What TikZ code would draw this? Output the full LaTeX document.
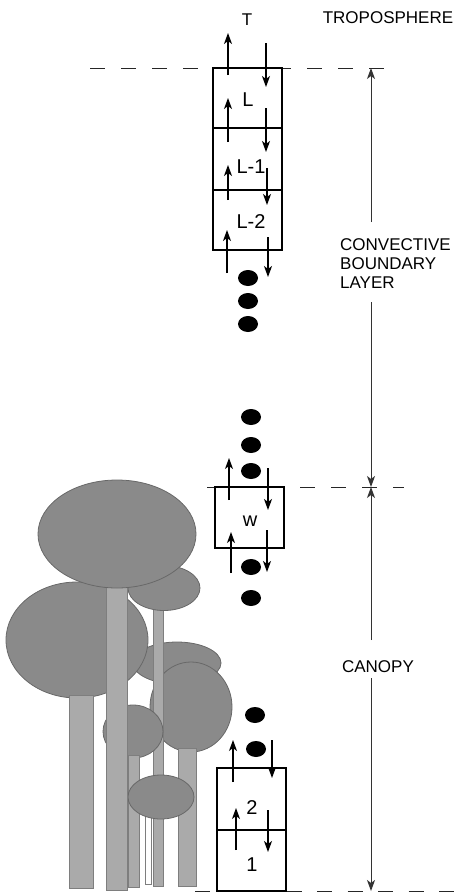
\documentclass[tikz,border=0pt]{standalone}
\usepackage{fontspec}
\setmainfont{Liberation Sans}
\usetikzlibrary{arrows.meta}

\definecolor{crowngray}{HTML}{8A8A8A}
\definecolor{crownedge}{HTML}{686868}
\definecolor{trunkgray}{HTML}{AAAAAA}
\definecolor{trunkedge}{HTML}{7E7E7E}

% vertical flux arrow: x, start y, end y, name prefix
\newcommand\fluxarrow[4]{%
  \coordinate (#4s) at (#1,#2);
  \coordinate (#4e) at (#1,#3);
  \draw[flux] (#4s) -- (#4e);}

\begin{document}
\begin{tikzpicture}[x=1pt,y=-1pt,
  cell/.style={draw=black, line width=1.3pt, rectangle, inner sep=0pt, outer sep=0pt, minimum width=69pt},
  flux/.style={line width=1.1pt, -{Stealth[length=11pt,width=8pt,inset=3pt]}},
  level/.style={line width=1pt, draw=black!85, dash pattern=on 15pt off 16pt},
  dim/.style={line width=1pt, draw=black!80, -{Stealth[length=11pt,width=8pt,inset=3pt]}},
  lab/.style={inner sep=0pt, font=\fontsize{17}{19}\selectfont},
  celllab/.style={inner sep=0pt, font=\fontsize{20}{22}\selectfont},
  blob/.style={fill=black},
  crown/.style={fill=crowngray, draw=crownedge, line width=0.8pt},
  trunk/.style={fill=trunkgray, draw=trunkedge, line width=0.8pt},
  hollow/.style={fill=white, draw=trunkedge, line width=0.8pt}]

\useasboundingbox (0,0) rectangle (456,894);

% ---------------- trees ----------------
\draw[crown] (177,663) ellipse (44 and 21);
\draw[crown] (191,707) ellipse (41 and 45);
\draw[trunk] (153,600) rectangle (163,886);
\draw[trunk] (178,748) rectangle (196,886);
\draw[crown] (164,588) ellipse (36 and 22.5);
\draw[crown] (77,640) ellipse (71 and 58);
\draw[trunk] (69,695) rectangle (93,888);
\draw[crown] (133,731.5) ellipse (30 and 26.5);
\draw[trunk] (128,755) rectangle (139,887);
\draw[hollow] (145,815) rectangle (151,884);
\draw[crown] (161,797) ellipse (33 and 22);
\draw[trunk] (106,585) rectangle (127,890);
\draw[crown] (117,534) ellipse (79 and 54);

% ---------------- level lines ----------------
\coordinate (topA) at (90,68);   \coordinate (topB) at (385,68);
\coordinate (midA) at (207,487); \coordinate (midB) at (404,487);
\coordinate (botA) at (195,891); \coordinate (botB) at (456,891);
\draw[level] (topA) -- (topB);
\draw[level] (midA) -- (midB);
\draw[level, dash pattern=on 15pt off 15.5pt] (botA) -- (botB);

% ---------------- layer cells ----------------
\node[cell, minimum height=60pt] (cL)  at (247.5,98)  {};
\node[cell, minimum height=62pt] (cL1) at (247.5,159) {};
\node[cell, minimum height=60pt] (cL2) at (247.5,220) {};
\node[cell, minimum height=61pt] (cW)  at (249.5,517.5) {};
\node[cell, minimum height=62pt] (c2)  at (251.5,799) {};
\node[cell, minimum height=61pt] (c1)  at (251.5,860.5) {};

\node[celllab] (tL)  at (248,100) {L};
\node[celllab] (tL1) at (251,167) {L-1};
\node[celllab] (tL2) at (251,222) {L-2};
\node[celllab] (tW)  at (250,521) {w};
\node[celllab] (t2)  at (252,808) {2};
\node[celllab] (t1)  at (252,865) {1};
\node[lab] (tT) at (247,20) {T};

% ---------------- fluxes ----------------
\fluxarrow{228}{75}{33}{ua}
\fluxarrow{266}{43}{87}{da}
\fluxarrow{228}{142}{98}{ub}
\fluxarrow{266}{108}{152}{db}
\fluxarrow{228}{200}{165}{uc}
\fluxarrow{267}{168}{205}{dc}
\fluxarrow{227}{273}{230}{ud}
\fluxarrow{268}{237}{277}{dd}
\fluxarrow{229}{500}{458}{ue}
\fluxarrow{268}{468}{510}{de}
\fluxarrow{231}{573}{532}{uf}
\fluxarrow{267}{530}{572}{df}
\fluxarrow{233}{782}{740}{ug}
\fluxarrow{272}{740}{778}{dg}
\fluxarrow{236}{850}{808}{uh}
\fluxarrow{268}{810}{852}{dh}

% ---------------- ellipsis dots ----------------
\foreach \px/\py in {248/278, 248/301, 248/324, 251/417, 251/445, 251/471,
                     251/567, 251/598, 255/715, 256/749}
  \fill[blob] (\px,\py) ellipse (10 and 8);

% ---------------- region labels and extents ----------------
\node[lab] (trop) at (388,18) {TROPOSPHERE};
\node[lab, anchor=west, align=left] (cbl) at (340,264) {CONVECTIVE\\BOUNDARY\\LAYER};
\node[lab] (can) at (378,667) {CANOPY};

\coordinate (dTop) at (371,68);
\coordinate (dMid) at (371,487);
\coordinate (dBot) at (371,891);
\coordinate (cblUp) at (371,222);
\coordinate (cblDn) at (371,302);
\coordinate (canUp) at (371,640);
\coordinate (canDn) at (371,678);
\draw[dim] (cblUp) -- (dTop);
\draw[dim] (cblDn) -- (dMid);
\draw[dim] (canUp) -- (dMid);
\draw[dim] (canDn) -- (dBot);

\end{tikzpicture}
\end{document}
